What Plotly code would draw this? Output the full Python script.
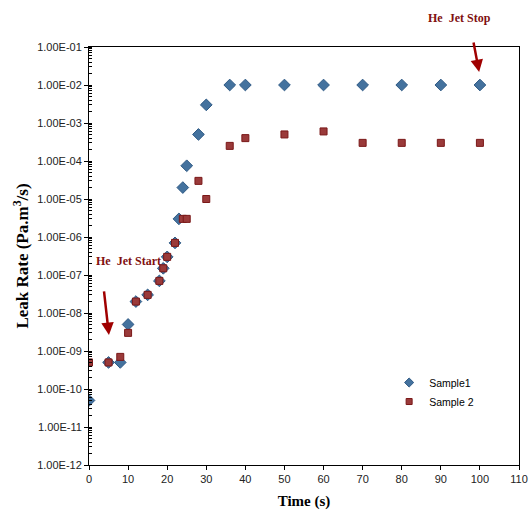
import plotly.graph_objects as go

# Data
time1 = [0, 5, 8, 10, 12, 15, 18, 19, 20, 22, 23, 24, 25, 28, 30, 36, 40, 50, 60, 70, 80, 90, 100]
leak1 = [5e-11, 5e-10, 5e-10, 5e-9, 2e-8, 3e-8, 7e-8, 1.5e-7, 3e-7, 7e-7, 3e-6, 2e-5, 7.5e-5,
         5e-4, 3e-3, 1e-2, 1e-2, 1e-2, 1e-2, 1e-2, 1e-2, 1e-2, 1e-2]

time2 = [0, 5, 8, 10, 12, 15, 18, 19, 20, 22, 24, 25, 28, 30, 36, 40, 50, 60, 70, 80, 90, 100]
leak2 = [5e-10, 5e-10, 7e-10, 3e-9, 2e-8, 3e-8, 7e-8, 1.5e-7, 3e-7, 7e-7, 3e-6, 3e-6, 3e-5,
         1e-5, 2.5e-4, 4e-4, 5e-4, 6e-4, 3e-4, 3e-4, 3e-4, 3e-4]

y_exps = list(range(-12, 0))
y_tickvals = [10.0 ** e for e in y_exps]
y_ticktext = [f"{v:.2E}" for v in y_tickvals]
x_ticks = list(range(0, 111, 10))

blue_fill, blue_line = "#44729E", "#2F5A85"
red_fill, red_line = "#9A3A3A", "#7A1818"

fig = go.Figure()
fig.add_trace(go.Scatter(
    x=time1, y=leak1, mode="markers", name="Sample1", showlegend=False,
    marker=dict(symbol="diamond", size=9, color=blue_fill, line=dict(color=blue_line, width=1)),
))
fig.add_trace(go.Scatter(
    x=time2, y=leak2, mode="markers", name="Sample 2", showlegend=False,
    marker=dict(symbol="square", size=7, color=red_fill, line=dict(color=red_line, width=1)),
))
# legend entries (smaller symbols as in the reference)
fig.add_trace(go.Scatter(
    x=[None], y=[None], mode="markers", name="Sample1",
    marker=dict(symbol="diamond", size=7, color=blue_fill, line=dict(color=blue_line, width=1)),
))
fig.add_trace(go.Scatter(
    x=[None], y=[None], mode="markers", name="Sample 2",
    marker=dict(symbol="square", size=6, color=red_fill, line=dict(color=red_line, width=1)),
))

serif = "Liberation Serif, Times New Roman, serif"
tickfont = dict(family="Liberation Sans Narrow, Arial Narrow, sans-serif", size=11, color="#222")

fig.update_layout(
    width=530, height=510,
    margin=dict(l=89, r=11, t=47, b=45),
    paper_bgcolor="white", plot_bgcolor="white",
    showlegend=True,
    legend=dict(x=0.698, y=0.232, xanchor="left", yanchor="top",
                font=dict(family="Liberation Sans Narrow, Arial Narrow, sans-serif", size=10.5, color="black"),
                bgcolor="rgba(0,0,0,0)", tracegroupgap=0, itemwidth=30),
    xaxis=dict(
        range=[0, 110], tickvals=x_ticks, ticks="outside", ticklen=4, automargin=False,
        tickcolor="black", showline=True, linecolor="black", linewidth=1,
        mirror=True, showgrid=False, zeroline=False, tickfont=tickfont,
        title=dict(text="<b>Time (s)</b>", font=dict(family=serif, size=15, color="black"), standoff=11),
    ),
    yaxis=dict(
        type="log", range=[-12, -1], automargin=False,
        tickmode="array", tickvals=y_tickvals + [0.1], ticktext=y_ticktext + ["1.00E-01"],
        ticks="outside", ticklen=4, tickcolor="black",
        showline=True, linecolor="black", linewidth=1, mirror=True,
        showgrid=False, zeroline=False, tickfont=tickfont,
        minor=dict(ticks="inside", ticklen=3, tickcolor="black", dtick="D1", showgrid=False),
        title=dict(text="<b>Leak Rate (Pa.m<sup>3</sup>/s)</b>", font=dict(family=serif, size=17, color="black"), standoff=4),
    ),
)

red = "#A00000"
fig.add_annotation(x=5.1, y=-8.58, ax=3.8, ay=-7.39, xref="x", yref="y", axref="x", ayref="y",
                   text="", showarrow=True, arrowhead=2, arrowsize=1, arrowwidth=2.5, arrowcolor=red)
fig.add_annotation(x=99.8, y=-1.66, ax=98.3, ay=-0.84, xref="x", yref="y", axref="x", ayref="y",
                   text="", showarrow=True, arrowhead=2, arrowsize=1, arrowwidth=2.5, arrowcolor=red)
fig.add_annotation(x=10.0, y=-6.62, xref="x", yref="y", text="<b>He  Jet Start</b>", showarrow=False,
                   xanchor="center", yanchor="middle",
                   font=dict(family=serif, size=12, color="#7F1010"))
fig.add_annotation(x=(459 - 89) / 430, y=1 + (47 - 18) / 418, xref="paper", yref="paper",
                   text="<b>He  Jet Stop</b>", showarrow=False, xanchor="center", yanchor="middle",
                   font=dict(family=serif, size=12, color="#7F1010"))

fig.write_html("out.html")
